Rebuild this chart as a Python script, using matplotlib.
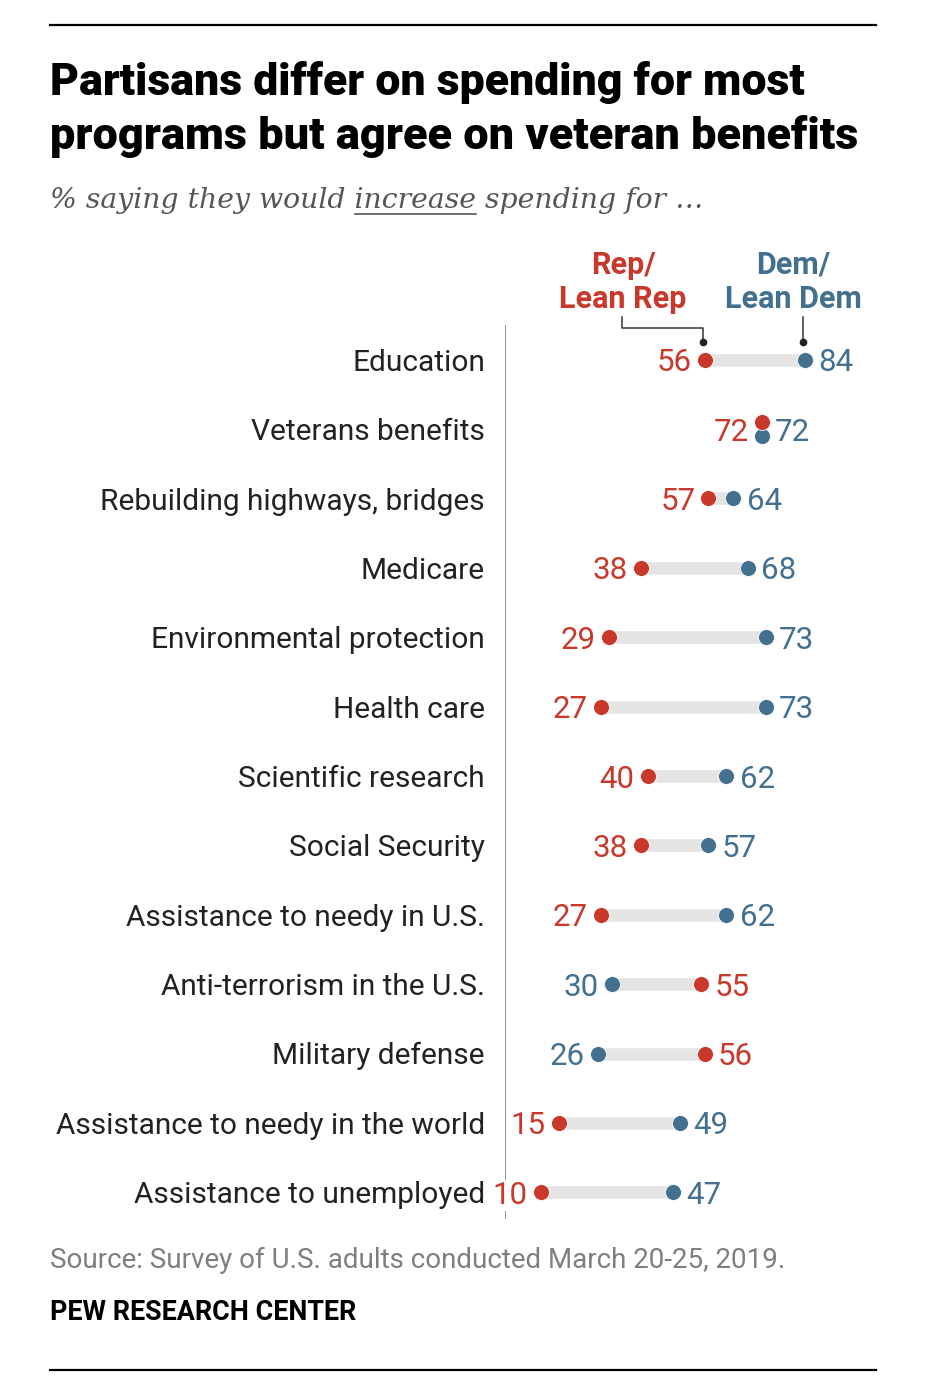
import matplotlib
matplotlib.use("Agg")
import matplotlib.pyplot as plt

W, H = 933, 1394

categories = ["Education", "Veterans benefits", "Rebuilding highways, bridges",
              "Medicare", "Environmental protection", "Health care",
              "Scientific research", "Social Security", "Assistance to needy in U.S.",
              "Anti-terrorism in the U.S.", "Military defense",
              "Assistance to needy in the world", "Assistance to unemployed"]
rep = [56, 72, 57, 38, 29, 27, 40, 38, 27, 55, 56, 15, 10]
dem = [84, 72, 64, 68, 73, 73, 62, 57, 62, 30, 26, 49, 47]

RED = "#C8392C"
BLUE = "#44708F"
GRAY_BAR = "#E4E4E4"

plt.rcParams["font.family"] = ["Roboto", "DejaVu Sans"]

fig = plt.figure(figsize=(W / 100, H / 100), dpi=100)
fig.patch.set_facecolor("white")
renderer = fig.canvas.get_renderer()


def px(x, y):
    return x / W, 1 - y / H


def fit_width(t, target):
    w = t.get_window_extent(renderer).width
    t.set_fontsize(t.get_fontsize() * target / w)


# rules top and bottom
fig.add_artist(plt.Line2D([50 / W, 876 / W], [1 - 25 / H] * 2, color="black", lw=1.6))
fig.add_artist(plt.Line2D([50 / W, 876 / W], [1 - 1370 / H] * 2, color="black", lw=1.6))

# title
t1 = fig.text(*px(50, 83), "Partisans differ on spending for most", fontsize=28,
              fontweight="black", ha="left", va="center", color="black")
fit_width(t1, 754)
t2 = fig.text(*px(50, 137), "programs but agree on veteran benefits", fontsize=28,
              fontweight="black", ha="left", va="center", color="black")
fit_width(t2, 807)

# subtitle with underlined "increase"
sub = "% saying they would increase spending for \u2026"
st = fig.text(*px(50, 200), sub, fontsize=20, family="DejaVu Serif", style="italic",
              ha="left", va="center", color="#555555")
fit_width(st, 653)
fs = st.get_fontsize()


def tw(s):
    tt = fig.text(0, 0, s, fontsize=fs, family="DejaVu Serif", style="italic")
    w = tt.get_window_extent(renderer).width
    tt.remove()
    return w


space = tw("x x") - tw("xx")
u0 = 50 + tw("% saying they would") + space
u1 = 50 + tw("% saying they would increase")
fig.add_artist(plt.Line2D([u0 / W, u1 / W], [1 - 214 / H] * 2, color="#555555", lw=1.2))

# main axes: x 0..100 maps to pixels 505..862
top, bottom = 325, 1227
ax = fig.add_axes([505 / W, 1 - bottom / H, 357 / W, (bottom - top) / H])
ax.set_xlim(0, 100)
ax.set_ylim(len(categories) - 0.5, -0.5)
ax.axis("off")
ax.axvline(0, ymin=0.01, ymax=1, color="#888888", lw=1.3, zorder=0)

for i, (cat, r, d) in enumerate(zip(categories, rep, dem)):
    ax.plot([r, d], [i, i], color=GRAY_BAR, lw=9, solid_capstyle="butt", zorder=1)
    ry, dy = i, i
    if r == d:
        ry, dy = i - 0.095, i + 0.095
    ax.plot(d, dy, "o", color=BLUE, ms=11.5, mec="white", mew=0.6, zorder=2)
    ax.plot(r, ry, "o", color=RED, ms=11.5, mec="white", mew=0.6, zorder=3)
    lo_c, hi_c = (RED, BLUE) if r <= d else (BLUE, RED)
    lo, hi = min(r, d), max(r, d)
    lo_t = ax.annotate(str(lo), (lo, i), xytext=(-9.5, 0), textcoords="offset points",
                       ha="right", va="center_baseline", fontsize=22.5, color=lo_c,
                       zorder=4)
    if lo < 12:
        lo_t.set_bbox(dict(facecolor="white", edgecolor="none", pad=1))
    ax.annotate(str(hi), (hi, i), xytext=(9.5, 0), textcoords="offset points",
                ha="left", va="center_baseline", fontsize=22.5, color=hi_c, zorder=4)
    fig.text(*px(485, 360 + i * 69.33), cat, ha="right", va="center_baseline",
             fontsize=21.5, color="#222222")

# legend labels with connectors
fig.text(*px(623, 282), "Rep/\nLean Rep", ha="center", va="center", fontsize=22,
         fontweight="bold", color=RED, linespacing=1.2)
fig.text(*px(793, 282), "Dem/\nLean Dem", ha="center", va="center", fontsize=22,
         fontweight="bold", color=BLUE, linespacing=1.2)
fig.add_artist(plt.Line2D([622 / W, 622 / W, 703 / W, 703 / W],
                          [1 - 317 / H, 1 - 328 / H, 1 - 328 / H, 1 - 342 / H],
                          color="#333333", lw=1.1))
fig.add_artist(plt.Line2D([803 / W, 803 / W], [1 - 317 / H, 1 - 342 / H],
                          color="#333333", lw=1.1))
fig.add_artist(plt.Line2D([703 / W, 803 / W], [1 - 342 / H] * 2, ls="none",
                          marker="o", ms=4.5, color="#222222"))

# footer
src = fig.text(*px(50, 1260), "Source: Survey of U.S. adults conducted March 20-25, 2019.",
               ha="left", va="center", fontsize=18, color="#7F7F7F")
fit_width(src, 736)
pew = fig.text(*px(50, 1313), "PEW RESEARCH CENTER", ha="left", va="center",
               fontsize=16, fontweight="bold", color="black")
fit_width(pew, 306)

fig.savefig("out.png", dpi=100, facecolor="white")
